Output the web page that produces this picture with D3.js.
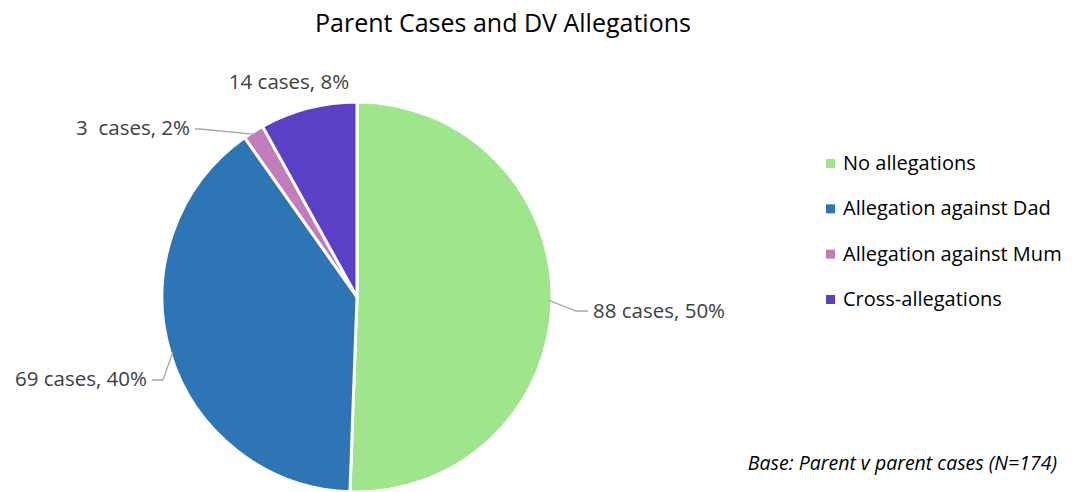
<html>
<head>
<script src="https://d3js.org/d3.v7.min.js" charset="utf-8"></script>
<style>
  body { margin: 0; background: #fff; }
  text { font-family: "Open Sans", sans-serif; white-space: pre; }
</style>
</head>
<body>
<div id="chart"></div>
<script>
// chart data
var categories = ["No allegations", "Allegation against Dad", "Allegation against Mum", "Cross-allegations"];
var cases = [88, 69, 3, 14];
var labels = ["88 cases, 50%", "69 cases, 40%", "3  cases, 2%", "14 cases, 8%"];
var colors = ["#9fe58b", "#2e75b6", "#c27bbb", "#5b3fc5"];

var width = 1081, height = 492;
var cx = 357, cy = 297, radius = 195;

var svg = d3.select("#chart").append("svg")
    .attr("width", width)
    .attr("height", height);

svg.append("text")
    .attr("x", 503).attr("y", 32)
    .attr("text-anchor", "middle")
    .style("font-size", "25px")
    .style("fill", "#000")
    .text("Parent Cases and DV Allegations");

var pie = d3.pie().sort(null).value(function(d) { return d; });
var arc = d3.arc().innerRadius(0).outerRadius(radius);
var slices = pie(cases);

var g = svg.append("g").attr("transform", "translate(" + cx + "," + cy + ")");

g.selectAll("path")
    .data(slices)
    .enter().append("path")
    .attr("d", arc)
    .attr("fill", function(d, i) { return colors[i]; })
    .attr("stroke", "#fff")
    .attr("stroke-width", 3)
    .attr("stroke-linejoin", "round");

// label placement (layout only): elbow point, end point, text pos, anchor
var labelLayout = [
    { elbow: [576, 311], end: [588, 311], tx: 593, ty: 318, anchor: "start", line: true },
    { elbow: [163, 380], end: [152, 380], tx: 147, ty: 386, anchor: "end", line: true },
    { elbow: [200, 129], end: [195, 129], tx: 190, ty: 135, anchor: "end", line: true },
    { tx: 289, ty: 89, anchor: "middle", line: false }
];

slices.forEach(function(s, i) {
    var L = labelLayout[i];
    if (L.line) {
        var a = (s.startAngle + s.endAngle) / 2;
        var p = [cx + (radius - 3) * Math.sin(a), cy - (radius - 3) * Math.cos(a)];
        svg.append("polyline")
            .attr("points", [p, L.elbow, L.end].map(function(q) { return q.join(","); }).join(" "))
            .attr("fill", "none")
            .attr("stroke", "#a6a6a6")
            .attr("stroke-width", 1.3);
    }
    svg.append("text")
        .attr("x", L.tx).attr("y", L.ty)
        .attr("text-anchor", L.anchor)
        .style("font-size", "20.5px")
        .style("fill", "#404040")
        .text(labels[i]);
});

// legend
var legend = svg.append("g");
var rowY = d3.scalePoint().domain(categories).range([163, 299]);
categories.forEach(function(c, i) {
    var y = rowY(c);
    legend.append("rect")
        .attr("x", 826).attr("y", y - 4)
        .attr("width", 9).attr("height", 9)
        .attr("fill", colors[i]);
    legend.append("text")
        .attr("x", 843).attr("y", y + 7)
        .style("font-size", "20px")
        .style("fill", "#000")
        .text(c);
});

svg.append("text")
    .attr("x", 1057).attr("y", 470)
    .attr("text-anchor", "end")
    .style("font-size", "19.5px")
    .style("font-style", "italic")
    .style("fill", "#000")
    .text("Base: Parent v parent cases (N=174)");
</script>
</body>
</html>
